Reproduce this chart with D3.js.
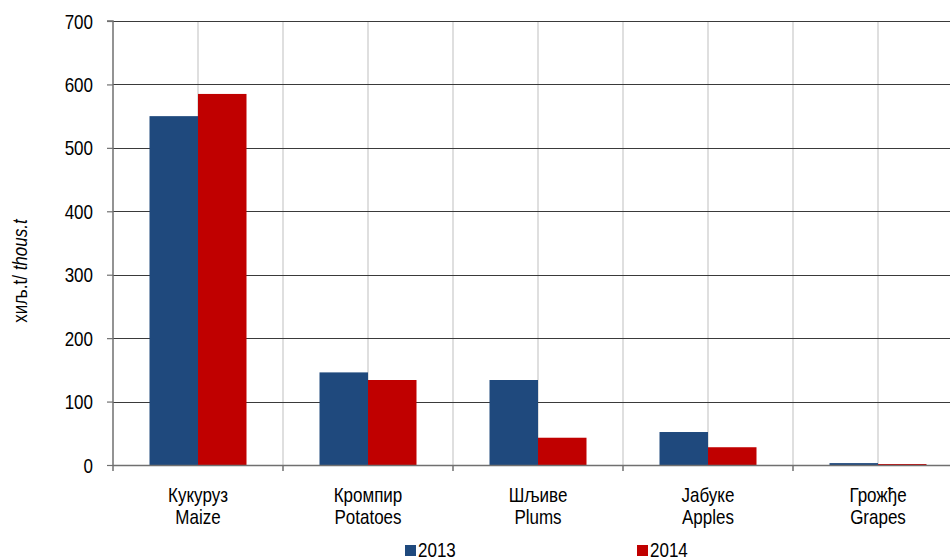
<!DOCTYPE html>
<html><head><meta charset="utf-8">
<script src="https://cdn.jsdelivr.net/npm/d3@7/dist/d3.min.js"></script>
<style>
body{margin:0;background:#fff;}
text{font-family:"Liberation Sans",Arial,sans-serif;fill:#000;}
</style></head>
<body><svg id="c" width="950" height="560"></svg>
<script>
const categoriesSr = ["Кукуруз","Кромпир","Шљиве","Јабуке","Грожђе"];
const categoriesEn = ["Maize","Potatoes","Plums","Apples","Grapes"];
const series = ["2013","2014"];
const values2013 = [550, 146, 134, 52, 3];
const values2014 = [585, 134, 43, 28, 1.5];
const yTicks = [0,100,200,300,400,500,600,700];
const colors = ["#1F497D","#C00000"];

const FS = "20px", SX = 0.85;
const svg = d3.select("#c");
const pL = 113, pR = 963, pT = 21, pB = 465;
const x0 = d3.scaleBand().domain(d3.range(categoriesSr.length)).range([pL,pR]).padding(0);
const bw = x0.bandwidth();
const x1 = d3.scaleBand().domain(series).range([bw*0.2147, bw*0.7853]).padding(0);
const y = d3.scaleLinear().domain([0,700]).range([pB,pT]);

// vertical light gridlines (boundaries and centers)
const vlines = [];
for (let i=0;i<categoriesSr.length;i++){ vlines.push(x0(i)+bw/2); if(i>0) vlines.push(x0(i)); }
svg.append("g").selectAll("line").data(vlines).join("line")
  .attr("x1",d=>d).attr("x2",d=>d).attr("y1",pT).attr("y2",pB)
  .attr("stroke","#d4d4d4").attr("stroke-width",1.5);

// horizontal gridlines
svg.append("g").selectAll("line").data(yTicks.filter(d=>d>0)).join("line")
  .attr("x1",pL).attr("x2",pR).attr("y1",d=>Math.round(y(d))+0.5).attr("y2",d=>Math.round(y(d))+0.5)
  .attr("stroke","#3a3a3a").attr("stroke-width",1.2);

// bars
const data = categoriesSr.map((c,i)=>({i, vals:[values2013[i], values2014[i]]}));
const g = svg.append("g").selectAll("g").data(data).join("g")
  .attr("transform",d=>`translate(${x0(d.i)},0)`);
g.selectAll("rect").data(d=>d.vals.map((v,k)=>({k,v}))).join("rect")
  .attr("x",d=>x1(series[d.k])).attr("width",x1.bandwidth())
  .attr("y",d=>y(d.v)).attr("height",d=>pB-y(d.v))
  .attr("fill",d=>colors[d.k]);

// y axis
const yAxis = d3.axisLeft(y).tickValues(yTicks).tickSize(6).tickPadding(6).tickFormat(d3.format("d"));
const ya = svg.append("g").attr("transform",`translate(${pL},0)`).call(yAxis);
ya.attr("font-family",null).attr("font-size",null);
ya.select(".domain").attr("stroke","#707070").attr("stroke-width",1.5).attr("d",`M-6,${pT}H0V${pB}`);
ya.selectAll(".tick line").attr("stroke","#707070").attr("stroke-width",1.2);
ya.selectAll(".tick text").style("font-size",FS).attr("x",0).attr("dy","0.35em")
  .attr("transform",`translate(-20,0) scale(${SX},1)`);

// x axis line and ticks
const xa = svg.append("g");
xa.append("line").attr("x1",pL).attr("x2",pR).attr("y1",pB+0.5).attr("y2",pB+0.5)
  .attr("stroke","#707070").attr("stroke-width",1.5);
xa.selectAll(".xt").data(d3.range(categoriesSr.length+1)).join("line").attr("class","xt")
  .attr("x1",i=>pL+i*bw).attr("x2",i=>pL+i*bw).attr("y1",pB).attr("y2",pB+6)
  .attr("stroke","#707070").attr("stroke-width",1.5);
const lbl = xa.selectAll(".xl").data(d3.range(categoriesSr.length)).join("text").attr("class","xl")
  .attr("text-anchor","middle").style("font-size",FS)
  .attr("transform",i=>`translate(${x0(i)+bw/2},0) scale(${SX},1)`);
lbl.append("tspan").attr("x",0).attr("y",502).text(i=>categoriesSr[i]);
lbl.append("tspan").attr("x",0).attr("y",524).text(i=>categoriesEn[i]);

// y label
const yl = svg.append("text").attr("transform",`translate(27,271) rotate(-90) scale(${SX},1)`)
  .attr("text-anchor","middle").style("font-size",FS);
yl.append("tspan").style("font-style","normal").text("хиљ.t/ ");
yl.append("tspan").style("font-style","italic").text("thous.t");

// legend
const legX = [405, 637];
series.forEach((s,k)=>{
  svg.append("rect").attr("x",legX[k]).attr("y",545).attr("width",11).attr("height",11).attr("fill",colors[k]);
  svg.append("text").attr("transform",`translate(${legX[k]+13},557) scale(${SX},1)`)
    .style("font-size",FS).text(s);
});
</script></body></html>
